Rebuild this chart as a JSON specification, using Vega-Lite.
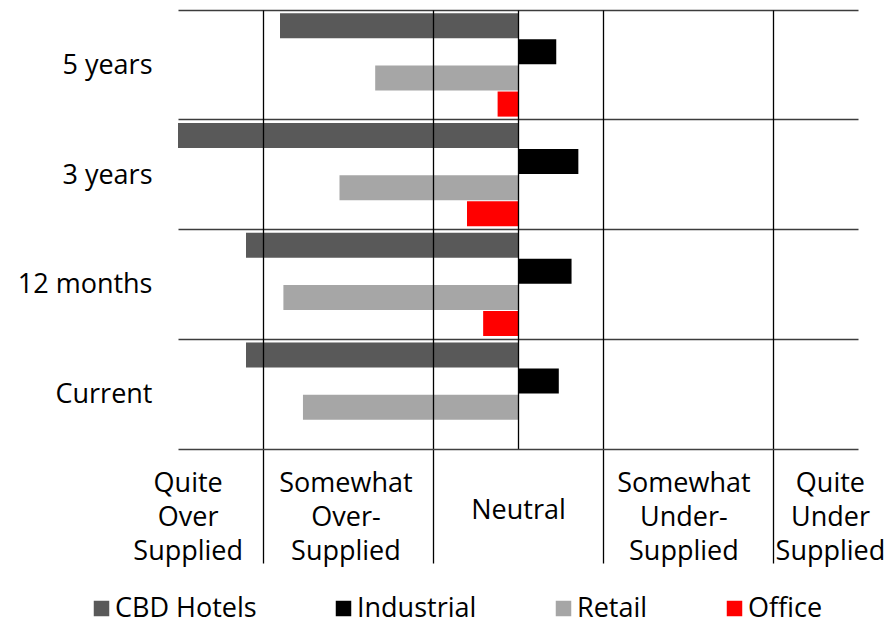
{
  "$schema": "https://vega.github.io/schema/vega-lite/v6.json",
  "width": 680,
  "height": 439,
  "autosize": {"type": "none"},
  "padding": {"left": 178, "top": 10, "right": 31, "bottom": 171},
  "background": "white",
  "config": {"font": "Open Sans", "view": {"stroke": null}},
  "data": {
    "values": [
      {"horizon": "5 years", "sector": "CBD Hotels", "score": -2.80},
      {"horizon": "5 years", "sector": "Industrial", "score": 0.45},
      {"horizon": "5 years", "sector": "Retail", "score": -1.68},
      {"horizon": "5 years", "sector": "Office", "score": -0.24},
      {"horizon": "3 years", "sector": "CBD Hotels", "score": -4.00},
      {"horizon": "3 years", "sector": "Industrial", "score": 0.71},
      {"horizon": "3 years", "sector": "Retail", "score": -2.10},
      {"horizon": "3 years", "sector": "Office", "score": -0.60},
      {"horizon": "12 months", "sector": "CBD Hotels", "score": -3.20},
      {"horizon": "12 months", "sector": "Industrial", "score": 0.63},
      {"horizon": "12 months", "sector": "Retail", "score": -2.76},
      {"horizon": "12 months", "sector": "Office", "score": -0.41},
      {"horizon": "Current", "sector": "CBD Hotels", "score": -3.20},
      {"horizon": "Current", "sector": "Industrial", "score": 0.48},
      {"horizon": "Current", "sector": "Retail", "score": -2.53}
    ]
  },
  "mark": {"type": "bar"},
  "encoding": {
    "y": {
      "field": "horizon",
      "type": "nominal",
      "sort": ["5 years", "3 years", "12 months", "Current"],
      "scale": {"paddingInner": 0, "paddingOuter": 0},
      "axis": {
        "title": null,
        "bandPosition": 0,
        "labelOffset": 1,
        "grid": true,
        "gridColor": "#3c3c3c",
        "gridWidth": 1.5,
        "ticks": false,
        "domain": false,
        "labelFontSize": 27,
        "labelColor": "black",
        "labelPadding": 26
      }
    },
    "yOffset": {
      "field": "sector",
      "type": "nominal",
      "sort": ["CBD Hotels", "Industrial", "Retail", "Office"],
      "scale": {"paddingInner": 0.04, "paddingOuter": 0.12}
    },
    "x": {
      "field": "score",
      "type": "quantitative",
      "scale": {"domain": [-4, 4], "nice": false},
      "axis": {
        "title": null,
        "zindex": 1,
        "values": [-3.886, -3, -2.03, -1, 0, 1, 1.946, 3, 3.67],
        "labelExpr": "datum.value < -3.5 ? ['Quite', 'Over', 'Supplied'] : (datum.value < -1.5 && datum.value > -2.5) ? ['Somewhat', 'Over-', 'Supplied'] : datum.value == 0 ? 'Neutral' : (datum.value > 1.5 && datum.value < 2.5) ? ['Somewhat', 'Under-', 'Supplied'] : datum.value > 3.5 ? ['Quite', 'Under', 'Supplied'] : ''",
        "labelBaseline": {"condition": {"test": "datum.value == 0", "value": "top"}, "value": "bottom"},
        "labelAlign": "center",
        "labelFlush": false,
        "labelOverlap": false,
        "labelBound": false,
        "labelPadding": -66,
        "labelLineHeight": 34,
        "labelFontSize": 27,
        "labelColor": "black",
        "tickSize": 114,
        "tickColor": "black",
        "tickWidth": 1.3,
        "tickOpacity": {"condition": {"test": "abs(datum.value) == 1 || abs(datum.value) == 3", "value": 1}, "value": 0},
        "grid": true,
        "gridColor": "black",
        "gridWidth": 1.3,
        "gridOpacity": {"condition": {"test": "abs(datum.value) == 1 || abs(datum.value) == 3 || datum.value == 0", "value": 1}, "value": 0},
        "domain": true,
        "domainColor": "#404040",
        "domainWidth": 1.5
      }
    },
    "color": {
      "field": "sector",
      "type": "nominal",
      "sort": ["CBD Hotels", "Industrial", "Retail", "Office"],
      "scale": {
        "domain": ["CBD Hotels", "Industrial", "Retail", "Office"],
        "range": ["#595959", "#000000", "#a6a6a6", "#ff0000"]
      },
      "legend": {
        "title": null,
        "orient": "none",
        "legendX": -90,
        "legendY": 585,
        "direction": "horizontal",
        "columns": 4,
        "gridAlign": "none",
        "columnPadding": 73,
        "symbolType": "square",
        "symbolSize": 240,
        "symbolStrokeWidth": 0,
        "symbolOpacity": 1,
        "labelFontSize": 27,
        "labelColor": "black",
        "labelOffset": 0,
        "padding": 0
      }
    }
  }
}
